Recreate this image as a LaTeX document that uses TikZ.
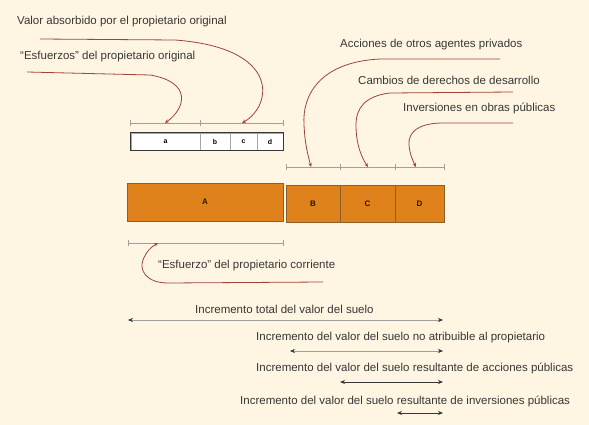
\documentclass[tikz,border=0pt]{standalone}
\usepackage{fontspec}
\setmainfont{Liberation Sans}
\usetikzlibrary{arrows.meta}
\definecolor{paper}{RGB}{254,246,226}
\definecolor{ochre}{RGB}{224,130,28}
\definecolor{ochreline}{RGB}{140,95,40}
\definecolor{leadred}{RGB}{160,68,58}
\definecolor{ink}{RGB}{55,55,55}
\tikzset{
  txt/.style={font=\fontsize{11.5}{13}\selectfont, text=ink, anchor=west, inner sep=0pt},
  lead/.style={leadred, line width=0.8pt, -{Stealth[length=4pt,width=3.5pt]}},
  tickline/.style={gray!75, line width=0.5pt},
  whitecell/.style={draw=gray!70, fill=white, line width=0.4pt, inner sep=0pt,
    minimum height=17pt, font=\bfseries\scriptsize},
  ochrecell/.style={draw=ochreline, fill=ochre, line width=0.7pt, inner sep=0pt,
    font=\bfseries\footnotesize, text=black!75!ochreline},
  dimarrow/.style={{Stealth[length=5pt,width=4pt,color=ink]}-{Stealth[length=5pt,width=4pt,color=ink]}}
}
\begin{document}
\begin{tikzpicture}[x=1pt, y=-1pt]
  \fill[paper] (0,0) rectangle (589,425);
  \useasboundingbox (0,0) rectangle (589,425);
  % ---------- original owner ----------
  \node[whitecell, minimum width=69pt] (a) at (165.5,141.5) {a};
  \node[whitecell, minimum width=30pt] (b) at (215,141.5) {b};
  \node[whitecell, minimum width=27pt] (c) at (243.5,141.5) {c};
  \node[whitecell, minimum width=26pt] (d) at (270,141.5) {d};
  \draw[ink, line width=1.2pt] (a.north west) rectangle (d.south east);
  \draw[tickline] (130,123) -- (283,123);
  \foreach \x in {130,200,283}
    \draw[tickline] (\x,120) -- (\x,126);
  \coordinate (pa) at (165,123);
  \coordinate (pbcd) at (242,123);
  % ---------- current owner and others ----------
  \node[ochrecell, minimum width=156pt, minimum height=38pt] (A) at (205,202) {A};
  \node[ochrecell, minimum width=54pt, minimum height=37pt] (B) at (313,203.5) {B};
  \node[ochrecell, minimum width=55pt, minimum height=37pt] (C) at (367.5,203.5) {C};
  \node[ochrecell, minimum width=49pt, minimum height=37pt] (D) at (419.5,203.5) {D};
  \draw[tickline] (286,167) -- (444,167);
  \foreach \x in {286,340,395,444}
    \draw[tickline] (\x,164) -- (\x,170);
  \coordinate (pB) at (311,167);
  \coordinate (pC) at (368,167);
  \coordinate (pD) at (416,167);
  \draw[tickline] (128,243) -- (283,243);
  \foreach \x in {128,283}
    \draw[tickline] (\x,240) -- (\x,246);
  \coordinate (pE) at (158,243);
  % ---------- labels with leads ----------
  \node[txt] (t1) at (17,22) {Valor absorbido por el propietario original};
  \node[txt] (t2) at (20,57) {“Esfuerzos” del propietario original};
  \node[txt] (t3) at (340,45) {Acciones de otros agentes privados};
  \node[txt] (t4) at (358,80) {Cambios de derechos de desarrollo};
  \node[txt] (t5) at (403,108) {Inversiones en obras públicas};
  \node[txt] (t6) at (158,266) {“Esfuerzo” del propietario corriente};
  \draw[lead] ([xshift=23pt,yshift=-17pt]t1.west) -- (175,40)
    .. controls (282,48) and (272,106) .. (pbcd);
  \draw[lead] ([xshift=7pt,yshift=-15pt]t2.west) -- (150,75)
    .. controls (192,82) and (186,108) .. (pa);
  \draw[lead] ([xshift=160pt,yshift=-14pt]t3.west) -- (380,59)
    .. controls (320,62) and (302,95) .. (304,125)
    .. controls (305,145) and (308,155) .. (pB);
  \draw[lead] ([xshift=155pt,yshift=-12pt]t4.west) -- (390,93)
    .. controls (365,96) and (356,108) .. (356,125)
    .. controls (356,145) and (362,158) .. (pC);
  \draw[lead] ([xshift=110pt,yshift=-15pt]t5.west) -- (440,123)
    .. controls (418,124) and (408,132) .. (409,145)
    .. controls (410,155) and (413,161) .. (pD);
  \draw[lead] ([xshift=165pt,yshift=-16pt]t6.west) -- (168,283)
    .. controls (146,283) and (139,270) .. (143,260)
    .. controls (146,252) and (151,247) .. (pE);
  % ---------- increments ----------
  \node[txt] (r1) at (195,309) {Incremento total del valor del suelo};
  \node[txt] (r2) at (256,338) {Incremento del valor del suelo no atribuible al propietario};
  \node[txt] (r3) at (256,368) {Incremento del valor del suelo resultante de acciones públicas};
  \node[txt] (r4) at (240,401) {Incremento del valor del suelo resultante de inversiones públicas};
  \coordinate (r1l) at (128,320); \coordinate (r1r) at (443,320);
  \coordinate (r2l) at (290,351); \coordinate (r2r) at (443,351);
  \coordinate (r3l) at (340,382); \coordinate (r3r) at (443,382);
  \coordinate (r4l) at (397,413); \coordinate (r4r) at (443,413);
  \draw[dimarrow, gray!75, line width=0.5pt] (r1l) -- (r1r);
  \draw[dimarrow, gray!75, line width=0.5pt] (r2l) -- (r2r);
  \draw[dimarrow, ink, line width=0.9pt] (r3l) -- (r3r);
  \draw[dimarrow, ink, line width=0.9pt] (r4l) -- (r4r);
\end{tikzpicture}
\end{document}
